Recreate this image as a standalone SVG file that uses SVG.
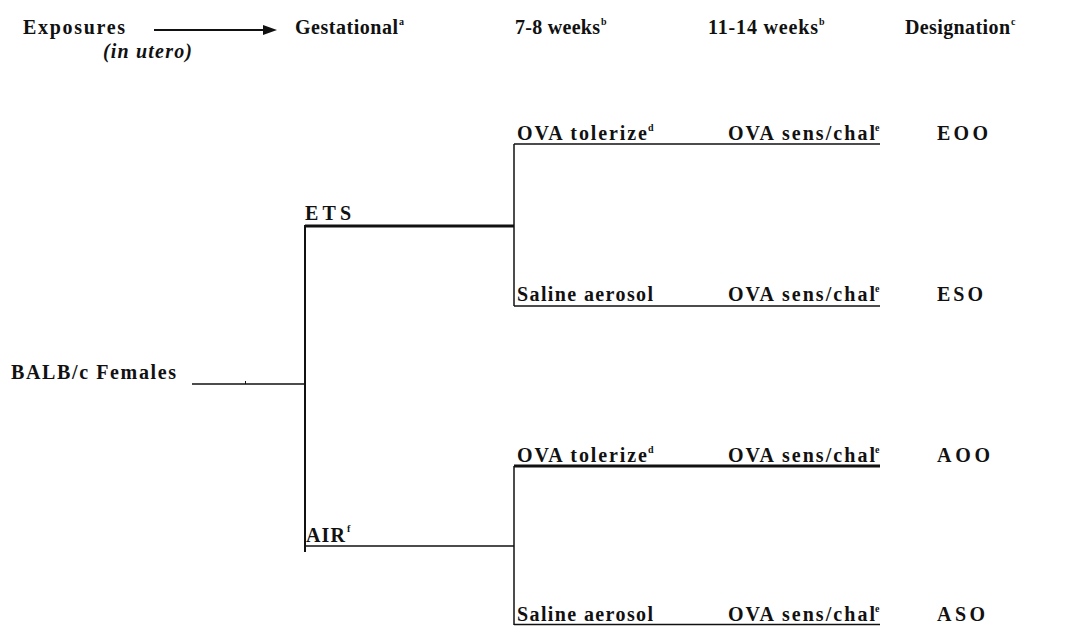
<svg xmlns="http://www.w3.org/2000/svg" width="1065" height="626" viewBox="0 0 1065 626">
<style>
text{font-family:"Liberation Serif","Times New Roman",serif;font-weight:bold;font-size:20px;fill:#111}
.it{font-style:italic;font-weight:bold}
.sup{font-size:10px}
.c{stroke:#111;fill:none}
.thin{stroke-width:1.5}
.thick{stroke-width:3}
.med{stroke-width:2}
</style>
<rect width="1065" height="626" fill="#fff"/>
<g id="header">
<text x="23" y="34" textLength="102" lengthAdjust="spacing">Exposures</text>
<text x="103" y="58" class="it" textLength="89" lengthAdjust="spacing">(in utero)</text>
<text x="295" y="34" textLength="103" lengthAdjust="spacing">Gestational</text><text x="399" y="25" class="sup">a</text>
<text x="515" y="34" textLength="85" lengthAdjust="spacing">7-8 weeks</text><text x="601" y="25" class="sup">b</text>
<text x="708" y="34" textLength="110" lengthAdjust="spacing">11-14 weeks</text><text x="819" y="25" class="sup">b</text>
<text x="905" y="34" textLength="105" lengthAdjust="spacing">Designation</text><text x="1011" y="25" class="sup">c</text>
</g>
<g id="connectors">
<line class="c med" x1="154" y1="30" x2="265" y2="30"/>
<polygon points="263,25 277,30 263,35" fill="#111"/>
<line class="c thin" x1="192" y1="384" x2="305" y2="384"/>
<line class="c" stroke-width="1" x1="245.5" y1="381" x2="245.5" y2="384"/>
<line class="c med" x1="305" y1="225" x2="305" y2="552"/>
<line class="c thick" x1="305" y1="226" x2="514" y2="226"/>
<line class="c thin" x1="514" y1="144" x2="514" y2="306"/>
<line class="c thin" x1="514" y1="144" x2="880" y2="144"/>
<line class="c thin" x1="514" y1="306" x2="880" y2="306"/>
<line class="c thin" x1="305" y1="546" x2="514" y2="546"/>
<line class="c thin" x1="514" y1="466" x2="514" y2="625"/>
<line class="c thick" x1="514" y1="466" x2="880" y2="466"/>
<line class="c thin" x1="514" y1="624.5" x2="880" y2="624.5"/>
</g>
<g id="balb"><text x="11" y="379" textLength="165" lengthAdjust="spacing">BALB/c Females</text></g>
<g id="ets"><text x="305" y="220" textLength="46" lengthAdjust="spacing">ETS</text></g>
<g id="air"><text x="306" y="542" textLength="39" lengthAdjust="spacing">AIR</text><text x="347" y="532" class="sup">f</text></g>
<g id="ets-ova"><text x="517" y="140" textLength="130" lengthAdjust="spacing">OVA tolerize</text><text x="648" y="131" class="sup">d</text></g>
<g id="ets-saline"><text x="517" y="301" textLength="136" lengthAdjust="spacing">Saline aerosol</text></g>
<g id="eoo-sens"><text x="728" y="140" textLength="147" lengthAdjust="spacing">OVA sens/chal</text><text x="875" y="131" class="sup">e</text></g>
<g id="eso-sens"><text x="728" y="301" textLength="147" lengthAdjust="spacing">OVA sens/chal</text><text x="875" y="292" class="sup">e</text></g>
<g id="eoo"><text x="937" y="140" textLength="51" lengthAdjust="spacing">EOO</text></g>
<g id="eso"><text x="937" y="301" textLength="46" lengthAdjust="spacing">ESO</text></g>
<g id="air-ova"><text x="517" y="462" textLength="130" lengthAdjust="spacing">OVA tolerize</text><text x="648" y="453" class="sup">d</text></g>
<g id="air-saline"><text x="517" y="621" textLength="136" lengthAdjust="spacing">Saline aerosol</text></g>
<g id="aoo-sens"><text x="728" y="462" textLength="147" lengthAdjust="spacing">OVA sens/chal</text><text x="875" y="453" class="sup">e</text></g>
<g id="aso-sens"><text x="728" y="621" textLength="147" lengthAdjust="spacing">OVA sens/chal</text><text x="875" y="612" class="sup">e</text></g>
<g id="aoo"><text x="937" y="462" textLength="53" lengthAdjust="spacing">AOO</text></g>
<g id="aso"><text x="937" y="621" textLength="48" lengthAdjust="spacing">ASO</text></g>
</svg>
